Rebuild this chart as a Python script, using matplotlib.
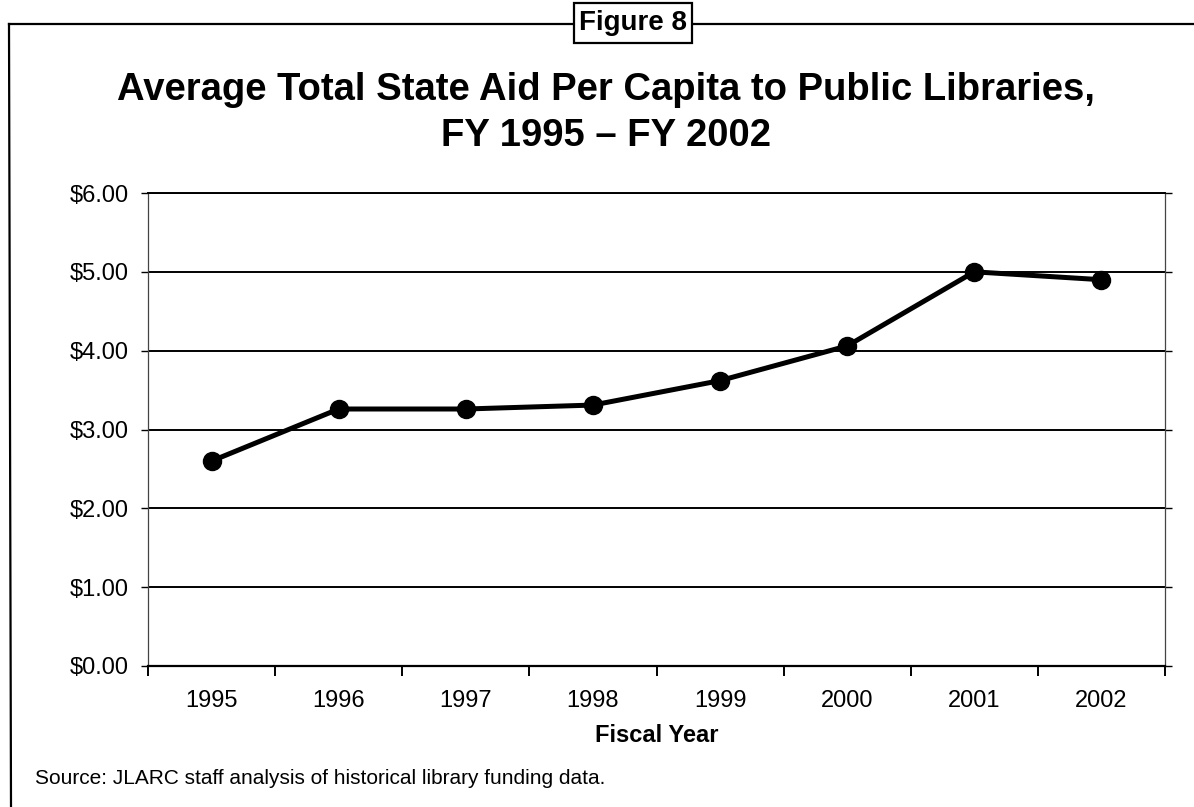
import matplotlib
matplotlib.use('Agg')
import matplotlib.pyplot as plt
from matplotlib.patches import Rectangle
from matplotlib.lines import Line2D
from matplotlib.ticker import FixedLocator, FuncFormatter

plt.rcParams['font.family'] = ['Liberation Sans', 'DejaVu Sans']

# data
years = ['1995', '1996', '1997', '1998', '1999', '2000', '2001', '2002']
aid_per_capita = [2.60, 3.26, 3.26, 3.31, 3.62, 4.06, 5.00, 4.90]
y_ticks = [0, 1, 2, 3, 4, 5, 6]

W, H = 1194, 807
fig = plt.figure(figsize=(W / 100, H / 100), dpi=100)

# outer frame (left and top edges only are visible)
fig.add_artist(Line2D([9 / W, 11 / W], [1 - 24 / H, 0], color='black', lw=1.6,
                      transform=fig.transFigure))
fig.add_artist(Line2D([9 / W, 1], [1 - 24 / H, 1 - 24 / H], color='black', lw=1.6,
                      transform=fig.transFigure))

# "Figure 8" box
fig.add_artist(Rectangle((574 / W, 1 - 43 / H), (692 - 574) / W, (43 - 3) / H,
                         transform=fig.transFigure, facecolor='white',
                         edgecolor='black', lw=1.6, zorder=5))
fig.text(633 / W, 1 - 23 / H, 'Figure 8', ha='center', va='center',
         fontsize=20, fontweight='bold', zorder=6)

fig.text(606 / W, 1 - 90 / H,
         'Average Total State Aid Per Capita to Public Libraries,',
         ha='center', va='center', fontsize=27.5, fontweight='bold')
fig.text(606 / W, 1 - 136 / H, 'FY 1995 \u2013 FY 2002',
         ha='center', va='center', fontsize=27.5, fontweight='bold')

ax = fig.add_axes([148 / W, 1 - 666 / H, (1165 - 148) / W, (666 - 193) / H])
x = list(range(len(years)))
ax.plot(x, aid_per_capita, color='black', lw=3.6, marker='o', markersize=13,
        zorder=4)

ax.set_xlim(-0.5, len(years) - 0.5)
ax.set_ylim(0, 6)
ax.set_yticks(y_ticks)
ax.yaxis.set_major_formatter(FuncFormatter(lambda v, p: f'${v:.2f}'))
ax.grid(axis='y', color='black', lw=1.4)
ax.set_axisbelow(True)

# category ticks between years, labels centred
ax.xaxis.set_major_locator(FixedLocator([i - 0.5 for i in range(len(years) + 1)]))
ax.xaxis.set_minor_locator(FixedLocator(x))
ax.set_xticklabels([])
ax.set_xticklabels(years, minor=True)
ax.tick_params(axis='x', which='major', length=7, width=1.4, direction='out')
ax.tick_params(axis='x', which='minor', length=0, pad=17, labelsize=17)
ax.tick_params(axis='y', length=5, width=1, direction='out', pad=9, labelsize=17,
               right=True)

for s in ['left', 'right']:
    ax.spines[s].set_color('#444444')
    ax.spines[s].set_linewidth(0.9)
ax.spines['bottom'].set_linewidth(1.6)
ax.spines['top'].set_linewidth(1.4)

ax.set_xlabel('Fiscal Year', fontsize=17, fontweight='bold', labelpad=9)

fig.text(35 / W, 1 - 779 / H,
         'Source: JLARC staff analysis of historical library funding data.',
         ha='left', va='center', fontsize=15)

fig.savefig('out.png', dpi=100)
